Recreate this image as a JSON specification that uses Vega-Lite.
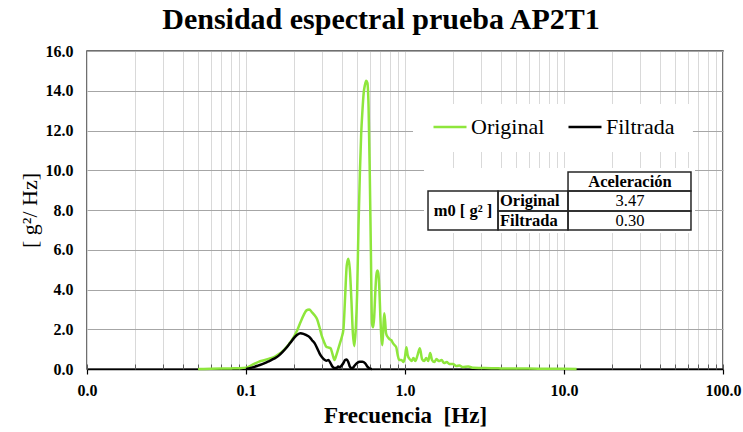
{
  "$schema": "https://vega.github.io/schema/vega-lite/v6.json",
  "width": 636,
  "height": 318,
  "autosize": {"type": "none"},
  "padding": {"left": 87, "top": 51, "right": 20, "bottom": 63},
  "background": "white",
  "title": {"text": "Densidad espectral prueba AP2T1", "font": "Liberation Serif", "fontSize": 30, "fontWeight": "bold", "color": "black", "anchor": "middle", "dx": -24, "offset": 8},
  "config": {"view": {"stroke": "#404040", "strokeWidth": 1.5}},
  "datasets": {
    "anotacion": [{"tabla": "m0"}],
    "espectro": [
      {"serie": "Original", "frecuencia": 0.05, "densidad": 0.0},
      {"serie": "Original", "frecuencia": 0.06, "densidad": 0.01},
      {"serie": "Original", "frecuencia": 0.07, "densidad": 0.02},
      {"serie": "Original", "frecuencia": 0.08, "densidad": 0.03},
      {"serie": "Original", "frecuencia": 0.09, "densidad": 0.04},
      {"serie": "Original", "frecuencia": 0.1, "densidad": 0.07},
      {"serie": "Original", "frecuencia": 0.11, "densidad": 0.22},
      {"serie": "Original", "frecuencia": 0.12, "densidad": 0.36},
      {"serie": "Original", "frecuencia": 0.13, "densidad": 0.44},
      {"serie": "Original", "frecuencia": 0.14, "densidad": 0.52},
      {"serie": "Original", "frecuencia": 0.15, "densidad": 0.6},
      {"serie": "Original", "frecuencia": 0.16, "densidad": 0.74},
      {"serie": "Original", "frecuencia": 0.17, "densidad": 0.9},
      {"serie": "Original", "frecuencia": 0.18, "densidad": 1.1},
      {"serie": "Original", "frecuencia": 0.19, "densidad": 1.35},
      {"serie": "Original", "frecuencia": 0.2, "densidad": 1.62},
      {"serie": "Original", "frecuencia": 0.21, "densidad": 1.95},
      {"serie": "Original", "frecuencia": 0.22, "densidad": 2.35},
      {"serie": "Original", "frecuencia": 0.23, "densidad": 2.7},
      {"serie": "Original", "frecuencia": 0.24, "densidad": 2.95},
      {"serie": "Original", "frecuencia": 0.25, "densidad": 3.0},
      {"serie": "Original", "frecuencia": 0.26, "densidad": 2.85},
      {"serie": "Original", "frecuencia": 0.27, "densidad": 2.7},
      {"serie": "Original", "frecuencia": 0.28, "densidad": 2.5},
      {"serie": "Original", "frecuencia": 0.29, "densidad": 2.1},
      {"serie": "Original", "frecuencia": 0.3, "densidad": 1.65},
      {"serie": "Original", "frecuencia": 0.31, "densidad": 1.35},
      {"serie": "Original", "frecuencia": 0.32, "densidad": 1.12},
      {"serie": "Original", "frecuencia": 0.33, "densidad": 1.08},
      {"serie": "Original", "frecuencia": 0.34, "densidad": 1.05},
      {"serie": "Original", "frecuencia": 0.35, "densidad": 0.75},
      {"serie": "Original", "frecuencia": 0.36, "densidad": 0.45},
      {"serie": "Original", "frecuencia": 0.37, "densidad": 0.7},
      {"serie": "Original", "frecuencia": 0.38, "densidad": 1.0},
      {"serie": "Original", "frecuencia": 0.39, "densidad": 1.3},
      {"serie": "Original", "frecuencia": 0.4, "densidad": 1.6},
      {"serie": "Original", "frecuencia": 0.41, "densidad": 2.0},
      {"serie": "Original", "frecuencia": 0.42, "densidad": 3.6},
      {"serie": "Original", "frecuencia": 0.43, "densidad": 5.2},
      {"serie": "Original", "frecuencia": 0.44, "densidad": 5.55},
      {"serie": "Original", "frecuencia": 0.45, "densidad": 5.0},
      {"serie": "Original", "frecuencia": 0.46, "densidad": 3.5},
      {"serie": "Original", "frecuencia": 0.47, "densidad": 1.8},
      {"serie": "Original", "frecuencia": 0.48, "densidad": 1.15},
      {"serie": "Original", "frecuencia": 0.49, "densidad": 2.0},
      {"serie": "Original", "frecuencia": 0.5, "densidad": 3.8},
      {"serie": "Original", "frecuencia": 0.51, "densidad": 7.2},
      {"serie": "Original", "frecuencia": 0.52, "densidad": 9.8},
      {"serie": "Original", "frecuencia": 0.53, "densidad": 11.8},
      {"serie": "Original", "frecuencia": 0.54, "densidad": 13.0},
      {"serie": "Original", "frecuencia": 0.55, "densidad": 13.9},
      {"serie": "Original", "frecuencia": 0.56, "densidad": 14.3},
      {"serie": "Original", "frecuencia": 0.57, "densidad": 14.5},
      {"serie": "Original", "frecuencia": 0.58, "densidad": 14.4},
      {"serie": "Original", "frecuencia": 0.59, "densidad": 13.2},
      {"serie": "Original", "frecuencia": 0.6, "densidad": 10.0},
      {"serie": "Original", "frecuencia": 0.61, "densidad": 6.0},
      {"serie": "Original", "frecuencia": 0.62, "densidad": 2.3},
      {"serie": "Original", "frecuencia": 0.63, "densidad": 2.1},
      {"serie": "Original", "frecuencia": 0.64, "densidad": 2.6},
      {"serie": "Original", "frecuencia": 0.65, "densidad": 3.8},
      {"serie": "Original", "frecuencia": 0.66, "densidad": 4.7},
      {"serie": "Original", "frecuencia": 0.67, "densidad": 4.95},
      {"serie": "Original", "frecuencia": 0.68, "densidad": 4.8},
      {"serie": "Original", "frecuencia": 0.69, "densidad": 4.0},
      {"serie": "Original", "frecuencia": 0.7, "densidad": 2.6},
      {"serie": "Original", "frecuencia": 0.71, "densidad": 1.6},
      {"serie": "Original", "frecuencia": 0.72, "densidad": 1.2},
      {"serie": "Original", "frecuencia": 0.73, "densidad": 2.0},
      {"serie": "Original", "frecuencia": 0.74, "densidad": 2.8},
      {"serie": "Original", "frecuencia": 0.75, "densidad": 2.4},
      {"serie": "Original", "frecuencia": 0.76, "densidad": 1.8},
      {"serie": "Original", "frecuencia": 0.78, "densidad": 1.6},
      {"serie": "Original", "frecuencia": 0.8, "densidad": 1.5},
      {"serie": "Original", "frecuencia": 0.82, "densidad": 1.45},
      {"serie": "Original", "frecuencia": 0.84, "densidad": 1.3},
      {"serie": "Original", "frecuencia": 0.86, "densidad": 1.2},
      {"serie": "Original", "frecuencia": 0.88, "densidad": 1.1},
      {"serie": "Original", "frecuencia": 0.9, "densidad": 0.7},
      {"serie": "Original", "frecuencia": 0.92, "densidad": 0.45},
      {"serie": "Original", "frecuencia": 0.95, "densidad": 0.45},
      {"serie": "Original", "frecuencia": 0.98, "densidad": 0.35},
      {"serie": "Original", "frecuencia": 1.0, "densidad": 0.6},
      {"serie": "Original", "frecuencia": 1.02, "densidad": 1.1},
      {"serie": "Original", "frecuencia": 1.04, "densidad": 0.7},
      {"serie": "Original", "frecuencia": 1.07, "densidad": 0.5},
      {"serie": "Original", "frecuencia": 1.1, "densidad": 0.4},
      {"serie": "Original", "frecuencia": 1.13, "densidad": 0.55},
      {"serie": "Original", "frecuencia": 1.16, "densidad": 0.4},
      {"serie": "Original", "frecuencia": 1.2, "densidad": 0.7},
      {"serie": "Original", "frecuencia": 1.24, "densidad": 1.05},
      {"serie": "Original", "frecuencia": 1.28, "densidad": 0.5},
      {"serie": "Original", "frecuencia": 1.32, "densidad": 0.4},
      {"serie": "Original", "frecuencia": 1.36, "densidad": 0.55},
      {"serie": "Original", "frecuencia": 1.4, "densidad": 0.4},
      {"serie": "Original", "frecuencia": 1.44, "densidad": 0.8},
      {"serie": "Original", "frecuencia": 1.48, "densidad": 0.45},
      {"serie": "Original", "frecuencia": 1.53, "densidad": 0.35},
      {"serie": "Original", "frecuencia": 1.58, "densidad": 0.5},
      {"serie": "Original", "frecuencia": 1.63, "densidad": 0.4},
      {"serie": "Original", "frecuencia": 1.7, "densidad": 0.45},
      {"serie": "Original", "frecuencia": 1.76, "densidad": 0.3},
      {"serie": "Original", "frecuencia": 1.83, "densidad": 0.35},
      {"serie": "Original", "frecuencia": 1.9, "densidad": 0.25},
      {"serie": "Original", "frecuencia": 2.0, "densidad": 0.25},
      {"serie": "Original", "frecuencia": 2.1, "densidad": 0.15},
      {"serie": "Original", "frecuencia": 2.2, "densidad": 0.18},
      {"serie": "Original", "frecuencia": 2.3, "densidad": 0.1},
      {"serie": "Original", "frecuencia": 2.5, "densidad": 0.12},
      {"serie": "Original", "frecuencia": 2.7, "densidad": 0.06},
      {"serie": "Original", "frecuencia": 3.0, "densidad": 0.05},
      {"serie": "Original", "frecuencia": 3.5, "densidad": 0.04},
      {"serie": "Original", "frecuencia": 4.0, "densidad": 0.03},
      {"serie": "Original", "frecuencia": 5.0, "densidad": 0.02},
      {"serie": "Original", "frecuencia": 6.0, "densidad": 0.02},
      {"serie": "Original", "frecuencia": 8.0, "densidad": 0.01},
      {"serie": "Original", "frecuencia": 10.0, "densidad": 0.01},
      {"serie": "Original", "frecuencia": 12.0, "densidad": 0.0},
      {"serie": "Filtrada", "frecuencia": 0.1, "densidad": 0.0},
      {"serie": "Filtrada", "frecuencia": 0.11, "densidad": 0.08},
      {"serie": "Filtrada", "frecuencia": 0.12, "densidad": 0.18},
      {"serie": "Filtrada", "frecuencia": 0.13, "densidad": 0.28},
      {"serie": "Filtrada", "frecuencia": 0.14, "densidad": 0.4},
      {"serie": "Filtrada", "frecuencia": 0.15, "densidad": 0.52},
      {"serie": "Filtrada", "frecuencia": 0.16, "densidad": 0.66},
      {"serie": "Filtrada", "frecuencia": 0.17, "densidad": 0.86},
      {"serie": "Filtrada", "frecuencia": 0.18, "densidad": 1.08},
      {"serie": "Filtrada", "frecuencia": 0.19, "densidad": 1.32},
      {"serie": "Filtrada", "frecuencia": 0.2, "densidad": 1.55},
      {"serie": "Filtrada", "frecuencia": 0.21, "densidad": 1.72},
      {"serie": "Filtrada", "frecuencia": 0.22, "densidad": 1.8},
      {"serie": "Filtrada", "frecuencia": 0.23, "densidad": 1.77},
      {"serie": "Filtrada", "frecuencia": 0.24, "densidad": 1.7},
      {"serie": "Filtrada", "frecuencia": 0.25, "densidad": 1.62},
      {"serie": "Filtrada", "frecuencia": 0.26, "densidad": 1.45},
      {"serie": "Filtrada", "frecuencia": 0.27, "densidad": 1.3},
      {"serie": "Filtrada", "frecuencia": 0.28, "densidad": 1.05},
      {"serie": "Filtrada", "frecuencia": 0.29, "densidad": 0.79},
      {"serie": "Filtrada", "frecuencia": 0.3, "densidad": 0.6},
      {"serie": "Filtrada", "frecuencia": 0.31, "densidad": 0.48},
      {"serie": "Filtrada", "frecuencia": 0.32, "densidad": 0.42},
      {"serie": "Filtrada", "frecuencia": 0.33, "densidad": 0.45},
      {"serie": "Filtrada", "frecuencia": 0.34, "densidad": 0.3},
      {"serie": "Filtrada", "frecuencia": 0.35, "densidad": 0.12},
      {"serie": "Filtrada", "frecuencia": 0.36, "densidad": 0.05},
      {"serie": "Filtrada", "frecuencia": 0.37, "densidad": 0.05},
      {"serie": "Filtrada", "frecuencia": 0.38, "densidad": 0.12},
      {"serie": "Filtrada", "frecuencia": 0.39, "densidad": 0.1},
      {"serie": "Filtrada", "frecuencia": 0.4, "densidad": 0.18},
      {"serie": "Filtrada", "frecuencia": 0.41, "densidad": 0.3},
      {"serie": "Filtrada", "frecuencia": 0.42, "densidad": 0.45},
      {"serie": "Filtrada", "frecuencia": 0.43, "densidad": 0.48},
      {"serie": "Filtrada", "frecuencia": 0.44, "densidad": 0.35},
      {"serie": "Filtrada", "frecuencia": 0.45, "densidad": 0.12},
      {"serie": "Filtrada", "frecuencia": 0.46, "densidad": 0.05},
      {"serie": "Filtrada", "frecuencia": 0.47, "densidad": 0.06},
      {"serie": "Filtrada", "frecuencia": 0.48, "densidad": 0.15},
      {"serie": "Filtrada", "frecuencia": 0.5, "densidad": 0.3},
      {"serie": "Filtrada", "frecuencia": 0.52, "densidad": 0.36},
      {"serie": "Filtrada", "frecuencia": 0.54, "densidad": 0.36},
      {"serie": "Filtrada", "frecuencia": 0.56, "densidad": 0.3},
      {"serie": "Filtrada", "frecuencia": 0.58, "densidad": 0.12},
      {"serie": "Filtrada", "frecuencia": 0.6, "densidad": 0.02},
      {"serie": "Filtrada", "frecuencia": 0.62, "densidad": 0.0}
    ]
  },
  "resolve": {"axis": {"x": "independent", "y": "independent"}},
  "layer": [
    {
      "data": {"name": "anotacion"},
      "mark": {"type": "rect", "fill": "white", "stroke": null},
      "encoding": {
        "x": {"datum": 1.123, "type": "quantitative", "scale": {"type": "log", "domain": [0.01, 100], "nice": false},
          "axis": {"orient": "bottom", "values": [0.01, 0.1, 1, 10, 100], "format": ".1f", "grid": false, "domain": true, "domainColor": "black", "domainWidth": 1.5, "ticks": true, "tickSize": 5, "tickColor": "black", "tickWidth": 1.2, "labelPadding": 8, "labelFont": "Liberation Serif", "labelFontSize": 16, "labelFontWeight": "bold", "labelColor": "black", "labelFlush": false, "labelOverlap": false, "title": "Frecuencia\u00a0 [Hz]", "titleFont": "Liberation Serif", "titleFontSize": 23, "titleFontWeight": "bold", "titleColor": "black", "titlePadding": 6}},
        "x2": {"datum": 64.7},
        "y": {"datum": 13.33, "type": "quantitative", "scale": {"domain": [0, 16], "nice": false}, "axis": null},
        "y2": {"datum": 10.92}
      }
    },
    {
      "data": {"name": "anotacion"},
      "mark": {"type": "rect", "fill": "white", "stroke": null},
      "encoding": {
        "x": {"datum": 1.317, "type": "quantitative", "axis": null},
        "x2": {"datum": 66.7},
        "y": {"datum": 10.11, "type": "quantitative", "axis": null},
        "y2": {"datum": 6.84}
      }
    },
    {
      "data": {"name": "espectro"},
      "mark": {"type": "line", "strokeWidth": 2.5, "interpolate": "monotone"},
      "encoding": {
        "x": {"field": "frecuencia", "type": "quantitative", "scale": {"type": "log", "domain": [0.01, 100], "nice": false},
          "axis": {"orient": "bottom", "values": [0.01, 0.02, 0.03, 0.04, 0.05, 0.06, 0.07, 0.08, 0.09, 0.1, 0.2, 0.3, 0.4, 0.5, 0.6, 0.7, 0.8, 0.9, 1, 2, 3, 4, 5, 6, 7, 8, 9, 10, 20, 30, 40, 50, 60, 70, 80, 90, 100], "grid": true, "gridColor": "#d9d9d9", "gridWidth": 1, "labels": false, "domain": false, "ticks": true, "tickSize": -5, "tickColor": "#595959", "tickWidth": 1, "title": null}},
        "y": {"field": "densidad", "type": "quantitative", "scale": {"domain": [0, 16], "nice": false},
          "axis": {"values": [0, 2, 4, 6, 8, 10, 12, 14, 16], "format": ".1f", "grid": true, "gridColor": "#a6a6a6", "gridWidth": 1, "domain": false, "ticks": false, "labelPadding": 14, "labelFont": "Liberation Serif", "labelFontSize": 16, "labelFontWeight": "bold", "labelColor": "black", "title": "[ g²/ Hz]", "titleFont": "Liberation Serif", "titleFontSize": 22, "titleFontWeight": "normal", "titleColor": "black", "titlePadding": 4}},
        "color": {"field": "serie", "type": "nominal", "scale": {"domain": ["Original", "Filtrada"], "range": ["#8ee63c", "#000000"]},
          "legend": {"orient": "none", "legendX": 345, "legendY": 58, "direction": "horizontal", "title": null, "symbolType": "stroke", "symbolSize": 1089, "symbolStrokeWidth": 2.5, "labelFont": "Liberation Serif", "labelFontSize": 22, "labelColor": "black", "labelOffset": 3, "columnPadding": 18, "padding": 0}}
      }
    },
    {
      "data": {"name": "anotacion"},
      "mark": {"type": "rect", "filled": false, "stroke": "#262626", "strokeWidth": 1.5},
      "encoding": {"x": {"datum": 1.3955, "type": "quantitative", "axis": null}, "x2": {"datum": 3.846}, "y": {"datum": 8.96, "type": "quantitative", "axis": null}, "y2": {"datum": 6.99}}
    },
    {
      "data": {"name": "anotacion"},
      "mark": {"type": "rect", "filled": false, "stroke": "#262626", "strokeWidth": 1.5},
      "encoding": {"x": {"datum": 3.846, "type": "quantitative", "axis": null}, "x2": {"datum": 10.6}, "y": {"datum": 8.96, "type": "quantitative", "axis": null}, "y2": {"datum": 7.95}}
    },
    {
      "data": {"name": "anotacion"},
      "mark": {"type": "rect", "filled": false, "stroke": "#262626", "strokeWidth": 1.5},
      "encoding": {"x": {"datum": 3.846, "type": "quantitative", "axis": null}, "x2": {"datum": 10.6}, "y": {"datum": 7.95, "type": "quantitative", "axis": null}, "y2": {"datum": 6.99}}
    },
    {
      "data": {"name": "anotacion"},
      "mark": {"type": "rect", "filled": false, "stroke": "#262626", "strokeWidth": 1.5},
      "encoding": {"x": {"datum": 10.6, "type": "quantitative", "axis": null}, "x2": {"datum": 62.9}, "y": {"datum": 9.91, "type": "quantitative", "axis": null}, "y2": {"datum": 8.96}}
    },
    {
      "data": {"name": "anotacion"},
      "mark": {"type": "rect", "filled": false, "stroke": "#262626", "strokeWidth": 1.5},
      "encoding": {"x": {"datum": 10.6, "type": "quantitative", "axis": null}, "x2": {"datum": 62.9}, "y": {"datum": 8.96, "type": "quantitative", "axis": null}, "y2": {"datum": 7.95}}
    },
    {
      "data": {"name": "anotacion"},
      "mark": {"type": "rect", "filled": false, "stroke": "#262626", "strokeWidth": 1.5},
      "encoding": {"x": {"datum": 10.6, "type": "quantitative", "axis": null}, "x2": {"datum": 62.9}, "y": {"datum": 7.95, "type": "quantitative", "axis": null}, "y2": {"datum": 6.99}}
    },
    {
      "data": {"name": "anotacion"},
      "mark": {"type": "text", "text": "m0 [ g² ]", "font": "Liberation Serif", "fontSize": 16.5, "fontWeight": "bold", "color": "black", "align": "center", "baseline": "middle"},
      "encoding": {"x": {"datum": 2.317, "type": "quantitative", "axis": null}, "y": {"datum": 7.95, "type": "quantitative", "axis": null}}
    },
    {
      "data": {"name": "anotacion"},
      "mark": {"type": "text", "text": "Original", "font": "Liberation Serif", "fontSize": 16.5, "fontWeight": "bold", "color": "black", "align": "left", "baseline": "middle"},
      "encoding": {"x": {"datum": 3.96, "type": "quantitative", "axis": null}, "y": {"datum": 8.45, "type": "quantitative", "axis": null}}
    },
    {
      "data": {"name": "anotacion"},
      "mark": {"type": "text", "text": "Filtrada", "font": "Liberation Serif", "fontSize": 16.5, "fontWeight": "bold", "color": "black", "align": "left", "baseline": "middle"},
      "encoding": {"x": {"datum": 3.96, "type": "quantitative", "axis": null}, "y": {"datum": 7.45, "type": "quantitative", "axis": null}}
    },
    {
      "data": {"name": "anotacion"},
      "mark": {"type": "text", "text": "Aceleración", "font": "Liberation Serif", "fontSize": 16.5, "fontWeight": "bold", "color": "black", "align": "center", "baseline": "middle"},
      "encoding": {"x": {"datum": 26.0, "type": "quantitative", "axis": null}, "y": {"datum": 9.41, "type": "quantitative", "axis": null}}
    },
    {
      "data": {"name": "anotacion"},
      "mark": {"type": "text", "text": "3.47", "font": "Liberation Serif", "fontSize": 16.5, "color": "black", "align": "center", "baseline": "middle"},
      "encoding": {"x": {"datum": 26.0, "type": "quantitative", "axis": null}, "y": {"datum": 8.45, "type": "quantitative", "axis": null}}
    },
    {
      "data": {"name": "anotacion"},
      "mark": {"type": "text", "text": "0.30", "font": "Liberation Serif", "fontSize": 16.5, "color": "black", "align": "center", "baseline": "middle"},
      "encoding": {"x": {"datum": 26.0, "type": "quantitative", "axis": null}, "y": {"datum": 7.45, "type": "quantitative", "axis": null}}
    }
  ]
}
